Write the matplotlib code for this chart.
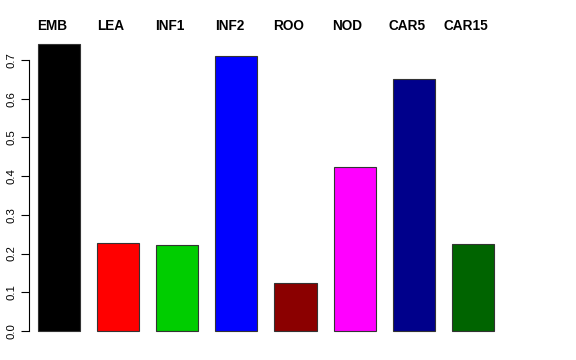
import matplotlib
matplotlib.use('Agg')
import matplotlib.pyplot as plt

# data
groups = ['EMB', 'LEA', 'INF1', 'INF2', 'ROO', 'NOD', 'CAR5', 'CAR15']
values = [0.742, 0.227, 0.222, 0.711, 0.124, 0.423, 0.651, 0.225]
colors = ['#000000', '#FF0000', '#00CD00', '#0000FF', '#8B0000', '#FF00FF', '#00008B', '#006400']
yticks = [0.0, 0.1, 0.2, 0.3, 0.4, 0.5, 0.6, 0.7]

plt.rcParams['font.family'] = ['Liberation Sans', 'DejaVu Sans']

fig = plt.figure(figsize=(5.76, 3.6), dpi=100)
ax = fig.add_axes([29/576, (360-342.5)/360, (545-29)/576, (342.5-32)/360])

x = list(range(len(groups)))
ax.bar(x, values, width=0.714, color=colors, edgecolor='#333333', linewidth=0.8)

ax.set_xlim(-0.508, 8.22)
ax.set_ylim(-0.0297, 0.772)

for s in ['top', 'right', 'bottom']:
    ax.spines[s].set_visible(False)
ax.spines['left'].set_bounds(0, 0.7)
ax.spines['left'].set_linewidth(0.8)
ax.set_xticks([])
ax.set_yticks(yticks)
ax.set_yticklabels(['%.1f' % t for t in yticks], rotation=90, va='center', fontsize=8.2)
ax.tick_params(axis='y', length=5.8, width=0.8, pad=3)

# group names above the bars
for i, g in enumerate(groups):
    ax.text(i - 0.12, 0.7775, g, ha='center', va='baseline', fontsize=9.8,
            fontweight='bold', clip_on=False)

fig.savefig('out.png', dpi=100)
